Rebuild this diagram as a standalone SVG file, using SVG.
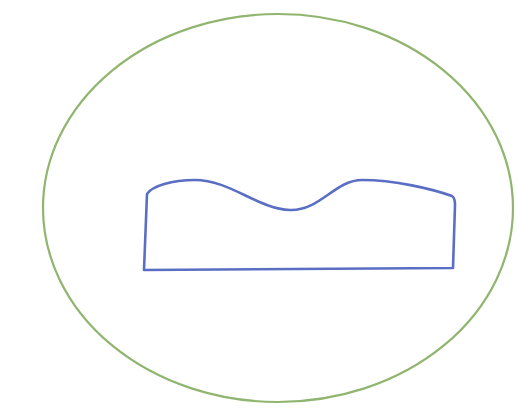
<svg xmlns="http://www.w3.org/2000/svg" width="517" height="408" viewBox="0 0 517 408">
<style>
.outer{fill:none;stroke:#8fb56e;stroke-width:2.2}
.inner{fill:none;stroke:#5a6ec4;stroke-width:2.6;stroke-linejoin:round}
</style>
<rect width="517" height="408" fill="#ffffff"/>
<g id="outer-ellipse">
<ellipse class="outer" cx="278" cy="208" rx="235" ry="194"/>
</g>
<g id="inner-shape">
<path class="inner" d="M144,270 L147,194 C152,186 172,180 195,180 C230,180 258,209 290,210 C320,211 335,180 362,180 C395,180 432,189 452,196 C455,198 455,202 455,205 L453,268 Z"/>
</g>
</svg>
